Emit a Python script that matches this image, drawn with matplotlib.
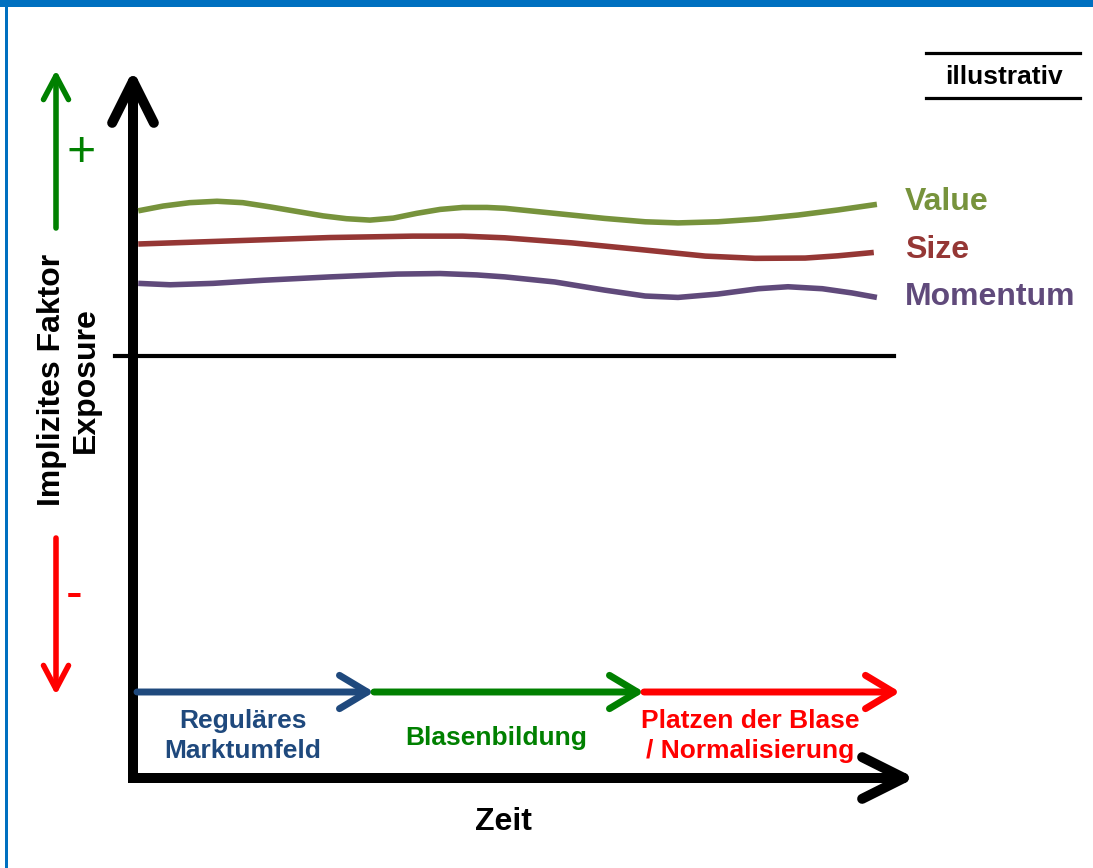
import matplotlib
matplotlib.use('Agg')
import matplotlib.pyplot as plt
from matplotlib.patches import FancyArrowPatch, Rectangle

plt.rcParams['font.family'] = ['Liberation Sans', 'DejaVu Sans']

# illustrative factor exposure over time (time 0..100, exposure, 0 = neutral)
value_t = [0.8, 4.0, 7.4, 10.9, 14.2, 17.7, 21.1, 24.5, 27.5, 30.5, 33.5, 36.5, 39.5, 42.4,
           45.5, 47.8, 54.2, 60.6, 65.8, 70.0, 75.1, 80.3, 85.4, 90.5, 95.5]
value_y = [0.517, 0.534, 0.546, 0.551, 0.546, 0.531, 0.515, 0.499, 0.489, 0.484, 0.491, 0.508,
           0.522, 0.529, 0.529, 0.526, 0.508, 0.490, 0.478, 0.474, 0.478, 0.488, 0.502, 0.520, 0.540]

size_t = [0.8, 12.6, 25.4, 36.0, 42.4, 47.8, 56.4, 64.9, 73.5, 79.9, 86.3, 90.5, 95.1]
size_y = [0.399, 0.410, 0.422, 0.427, 0.427, 0.421, 0.403, 0.380, 0.356, 0.348, 0.349, 0.357, 0.369]

mom_t = [0.8, 4.9, 10.4, 16.8, 25.4, 34.0, 39.5, 44.2, 47.8, 54.2, 60.6, 65.8, 70.0, 75.1,
         80.3, 84.1, 88.5, 92.3, 95.5]
mom_y = [0.259, 0.254, 0.259, 0.270, 0.282, 0.292, 0.294, 0.289, 0.282, 0.264, 0.235, 0.214,
         0.209, 0.221, 0.240, 0.247, 0.240, 0.225, 0.209]

series = [('Value', value_t, value_y, '#77933C'),
          ('Size', size_t, size_y, '#953735'),
          ('Momentum', mom_t, mom_y, '#604A7B')]

phases = ['Reguläres\nMarktumfeld', 'Blasenbildung', 'Platzen der Blase\n/ Normalisierung']
phase_colors = ['#1F497D', '#008000', '#FF0000']

W, H = 1093, 868
fig = plt.figure(figsize=(W / 100, H / 100), dpi=100)

# background axes in pixel units for the drawing frame
bg = fig.add_axes([0, 0, 1, 1])
bg.set_xlim(0, W)
bg.set_ylim(H, 0)
bg.axis('off')


def arrow(p0, p1, color, lw, hl, hw):
    a = FancyArrowPatch(p0, p1, arrowstyle=f'->,head_length={hl},head_width={hw}',
                        mutation_scale=1, color=color, lw=lw, capstyle='round',
                        joinstyle='round', shrinkA=0, shrinkB=0)
    bg.add_patch(a)


# blue frame
bg.add_patch(Rectangle((0, 0), W, 7, color='#0070C0', lw=0))
bg.add_patch(Rectangle((5, 0), 3, H, color='#0070C0', lw=0))

# main axes
arrow((133, 760), (133, 70), 'black', 7.2, 30, 15)
arrow((150, 778), (915, 778), 'black', 7.2, 30, 15)
bg.plot([133, 133, 300], [700, 778, 778], color='black', lw=7.2,
        solid_joinstyle='miter', solid_capstyle='butt')

# + / - arrows
arrow((56, 228), (56, 70), '#008000', 4, 17, 9)
arrow((56, 538), (56, 695), '#FF0000', 4, 17, 9)
bg.text(81, 153, '+', color='#008000', fontsize=36, ha='center', va='center')
bg.text(74, 595, '-', color='#FF0000', fontsize=36, ha='center', va='center')

bg.text(69, 380, 'Implizites Faktor\nExposure', rotation=90, fontsize=23,
        fontweight='bold', ha='center', va='center', multialignment='center')
bg.text(503, 822, 'Zeit', fontsize=23, fontweight='bold', ha='center', va='center')

# illustrativ box
bg.plot([926, 1080], [53, 53], color='black', lw=2.3)
bg.plot([926, 1080], [98, 98], color='black', lw=2.3)
bg.text(1004, 77, 'illustrativ', fontsize=19, fontweight='bold', ha='center', va='center')

# phase arrows
bounds = [137, 374, 644, 900]
label_x = [243, 496, 750]
label_y = [736, 738, 736]
for i in range(3):
    arrow((bounds[i], 692), (bounds[i + 1], 692), phase_colors[i], 5, 20, 12)
    bg.text(label_x[i], label_y[i], phases[i], color=phase_colors[i], fontsize=19,
            fontweight='bold', ha='center', va='center', multialignment='center',
            linespacing=1.3)

# factor curves
ax = fig.add_axes([132 / W, (H - 778) / H, 780 / W, 703 / H])
ax.set_xlim(0, 100)
ax.set_ylim(-1.5, 1.0)
ax.axis('off')
ax.plot([-2.2, 97.7], [0, 0], color='black', lw=3, clip_on=False)
label_pos = [202, 250, 297]
for (name, t, y, c), ly in zip(series, label_pos):
    ax.plot(t, y, color=c, lw=4, solid_capstyle='butt', solid_joinstyle='round')
    bg.text(905, ly, name, color=c, fontsize=23, fontweight='bold', ha='left', va='center')

fig.savefig('out.png', dpi=100)
